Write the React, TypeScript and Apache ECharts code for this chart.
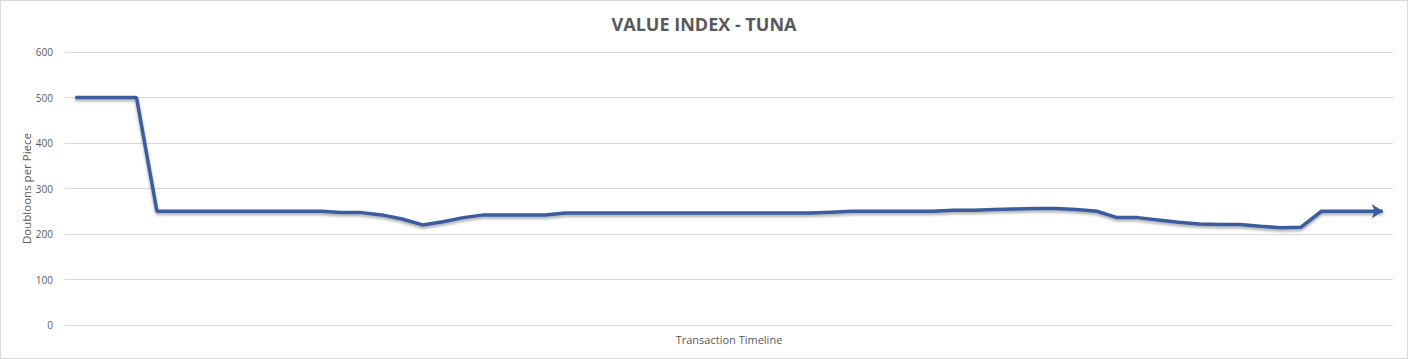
import React, { useEffect, useRef } from "react";
import * as echarts from "echarts";

const titleText = "VALUE INDEX - TUNA";
const yAxisTitle = "Doubloons per Piece";
const xAxisTitle = "Transaction Timeline";
const yTicks = [0, 100, 200, 300, 400, 500, 600];

const values = [
  500, 500, 500, 500,
  250, 250, 250, 250, 250, 250, 250, 250, 250,
  247, 247, 242, 233, 220, 227, 236, 242, 242, 242, 242,
  246, 246, 246, 246, 246, 246, 246, 246, 246, 246, 246, 246, 246,
  248,
  250, 250, 250, 250, 250,
  252, 252, 254, 255, 256, 256, 254, 250, 236, 236, 231, 226, 222, 221, 221, 217, 214, 215, 250, 250, 250, 250,
];
const categories = values.map((_, i) => String(i + 1));

export default function App() {
  const ref = useRef<HTMLDivElement>(null);
  useEffect(() => {
    document.body.style.margin = "0";
    const chart = echarts.init(ref.current!, undefined, { renderer: "svg" });
    const last = values.length - 1;
    chart.setOption({
      animation: false,
      backgroundColor: "#ffffff",
      title: {
        text: titleText,
        left: "center",
        top: 10,
        textStyle: {
          fontFamily: "Open Sans",
          fontSize: 18,
          fontWeight: "bold",
          color: "#595959",
        },
      },
      graphic: [
        {
          type: "rect",
          shape: { x: 0.5, y: 0.5, width: 1407, height: 358 },
          style: { fill: "none", stroke: "#d9d9d9", lineWidth: 1 },
          silent: true,
        },
      ],
      grid: { left: 65, right: 15, top: 52, bottom: 34 },
      xAxis: {
        type: "category",
        data: categories,
        boundaryGap: true,
        axisLine: { show: false },
        axisTick: { show: false },
        axisLabel: { show: false },
        name: xAxisTitle,
        nameLocation: "middle",
        nameGap: 9,
        nameTextStyle: { fontFamily: "Open Sans", fontSize: 11, color: "#595959" },
      },
      yAxis: {
        type: "value",
        min: yTicks[0],
        max: yTicks[yTicks.length - 1],
        interval: 100,
        axisLine: { show: false },
        axisTick: { show: false },
        axisLabel: {
          margin: 12,
          fontFamily: "Open Sans",
          fontSize: 10,
          color: "#595959",
        },
        splitLine: { lineStyle: { color: "#d9d9d9", width: 1 } },
        name: yAxisTitle,
        nameLocation: "middle",
        nameGap: 33,
        nameMoveOverlap: false,
        nameRotate: 90,
        nameTextStyle: { fontFamily: "Open Sans", fontSize: 11.5, color: "#595959" },
      },
      series: [
        {
          type: "line",
          data: values,
          symbol: (_v: any, p: any) => (p.dataIndex === last ? "arrow" : "none"),
          symbolSize: [11, 11],
          symbolRotate: -90,
          showSymbol: true,
          itemStyle: { color: "#3a5d9e" },
          lineStyle: {
            color: "#3a5d9e",
            width: 3.5,
            shadowColor: "rgba(0,0,0,0.35)",
            shadowBlur: 3,
            shadowOffsetY: 2,
          },
        },
      ],
    });
    return () => chart.dispose();
  }, []);
  return <div ref={ref} style={{ width: 1408, height: 359 }} />;
}
